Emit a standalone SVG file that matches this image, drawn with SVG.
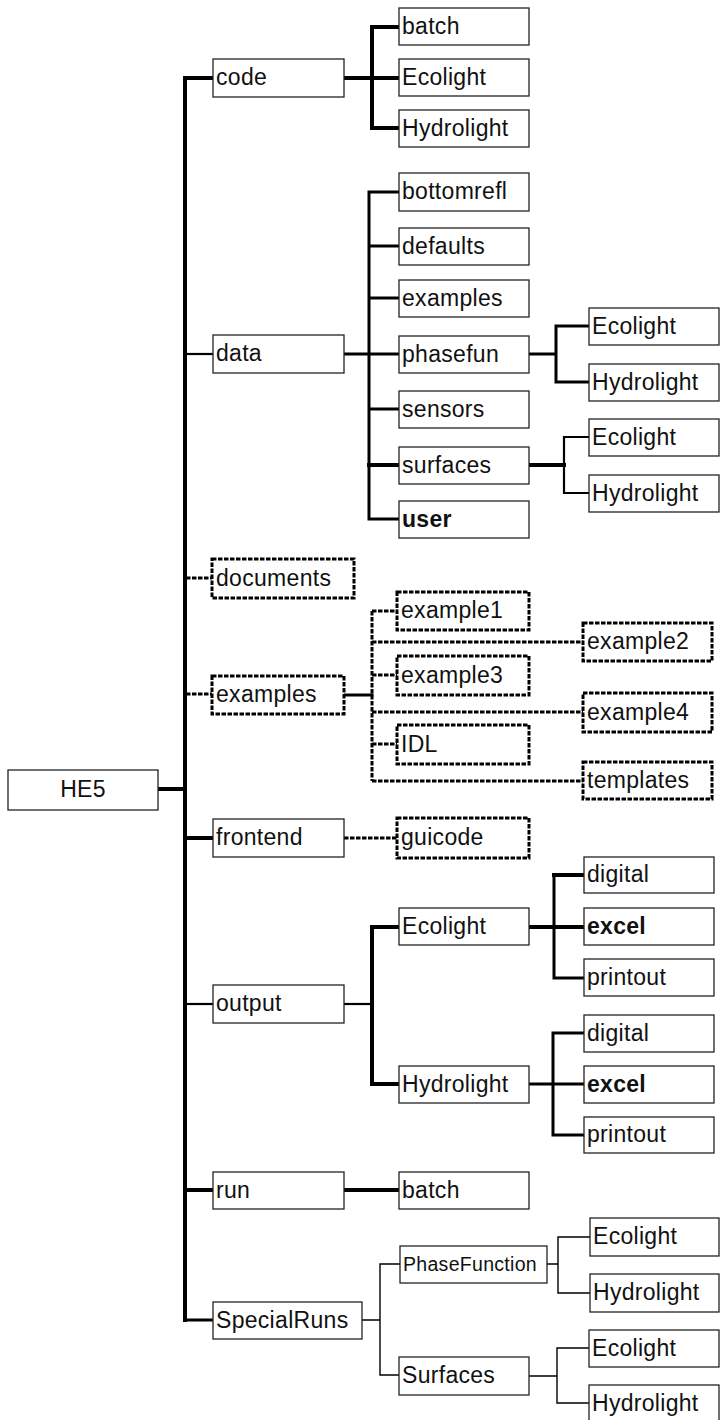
<svg xmlns="http://www.w3.org/2000/svg" width="720" height="1420" viewBox="0 0 720 1420">
<style>
  rect.b { fill: #fff; stroke: #222; stroke-width: 1.3; }
  rect.d { fill: #fff; stroke: #000; stroke-width: 3; stroke-dasharray: 4.5 1.5; }
  text { font-family: "Liberation Sans", Arial, sans-serif; font-size: 23px; letter-spacing: 0.3px; fill: #111; }
  text.bold { font-weight: bold; }
  text.small { font-size: 19.5px; }
  path { fill: none; stroke: #000; stroke-linecap: square; }
  .w4 { stroke-width: 4; }
  .w3 { stroke-width: 3; }
  .w2 { stroke-width: 2.2; }
  .w1 { stroke-width: 1.4; }
  .dash { stroke-width: 3; stroke-dasharray: 4.5 1.5; stroke-linecap: butt; }
</style>
<rect width="720" height="1420" fill="#fff"/>
<g id="connectors">
  <path class="w4" d="M185 78 V1320"/>
  <path class="w4" d="M158 789 H185"/>
  <path class="w4" d="M185 78 H213"/>
  <path class="w2" d="M185 354 H213"/>
  <path class="dash" d="M186 578 H212"/>
  <path class="dash" d="M186 694 H212"/>
  <path class="w4" d="M185 838 H213"/>
  <path class="w2" d="M185 1004 H213"/>
  <path class="w4" d="M185 1190 H213"/>
  <path class="w3" d="M185 1320 H213"/>
  <path class="w4" d="M344 78 H372 M372 27 V128 M372 27 H399 M372 78 H399 M372 128 H399"/>
  <path class="w3" d="M344 354 H369 M369 192 V519 M369 192 H399 M369 246 H399 M369 298 H399 M369 354 H399 M369 409 H399 M369 519 H399"/>
  <path class="w4" d="M369 465 H399 M529 465 H564"/>
  <path class="w3" d="M529 354 H556 M556 326 V382 M556 326 H589 M556 382 H589"/>
  <path class="w2" d="M564 437 V493 M564 437 H589 M564 493 H589"/>
  <path class="w3" d="M344 695 H372"/>
  <path class="dash" d="M372 611 V781 M372 611 H397 M372 642 H583 M372 675 H397 M372 712 H583 M372 744 H397 M372 781 H583"/>
  <path class="dash" d="M344 838 H397"/>
  <path class="w2" d="M344 1004 H372"/>
  <path class="w4" d="M372 927 V1084 M372 927 H399 M372 1084 H399"/>
  <path class="w4" d="M529 927 H554 M554 875 H584 M554 927 H584"/>
  <path class="w3" d="M554 875 V978 M554 978 H584"/>
  <path class="w3" d="M529 1084 H553 M553 1033 V1135 M553 1033 H584 M553 1084 H584 M553 1135 H584"/>
  <path class="w4" d="M344 1190 H399"/>
  <path class="w1" d="M362 1320 H380 M380 1264 V1375 M380 1264 H400 M380 1375 H399"/>
  <path class="w1" d="M547 1264 H558 M558 1237 V1293 M558 1237 H590 M558 1293 H590"/>
  <path class="w1" d="M529 1376 H557 M557 1348 V1403 M557 1348 H589 M557 1403 H589"/>
</g>
<g id="he5"><rect class="b" x="8" y="770" width="150" height="40"/><text x="83" y="797" text-anchor="middle">HE5</text></g>
<g id="code"><rect class="b" x="213" y="59" width="131" height="38"/><text x="216" y="85">code</text></g>
<g id="code-batch"><rect class="b" x="399" y="8" width="130" height="37"/><text x="402" y="33.5">batch</text></g>
<g id="code-ecolight"><rect class="b" x="399" y="59" width="130" height="37"/><text x="402" y="84.5">Ecolight</text></g>
<g id="code-hydrolight"><rect class="b" x="399" y="110" width="130" height="37"/><text x="402" y="135.5">Hydrolight</text></g>
<g id="data"><rect class="b" x="213" y="335" width="131" height="38"/><text x="216" y="361">data</text></g>
<g id="bottomrefl"><rect class="b" x="399" y="173" width="130" height="38"/><text x="402" y="199">bottomrefl</text></g>
<g id="defaults"><rect class="b" x="399" y="228" width="130" height="37"/><text x="402" y="253.5">defaults</text></g>
<g id="data-examples"><rect class="b" x="399" y="280" width="130" height="37"/><text x="402" y="305.5">examples</text></g>
<g id="phasefun"><rect class="b" x="399" y="336" width="130" height="37"/><text x="402" y="361.5">phasefun</text></g>
<g id="sensors"><rect class="b" x="399" y="391" width="130" height="37"/><text x="402" y="416.5">sensors</text></g>
<g id="surfaces"><rect class="b" x="399" y="447" width="130" height="37"/><text x="402" y="472.5">surfaces</text></g>
<g id="user"><rect class="b" x="399" y="501" width="130" height="37"/><text class="bold" x="402" y="526.5">user</text></g>
<g id="phasefun-ecolight"><rect class="b" x="589" y="308" width="130" height="37"/><text x="592" y="333.5">Ecolight</text></g>
<g id="phasefun-hydrolight"><rect class="b" x="589" y="364" width="130" height="37"/><text x="592" y="389.5">Hydrolight</text></g>
<g id="surfaces-ecolight"><rect class="b" x="589" y="419" width="130" height="37"/><text x="592" y="444.5">Ecolight</text></g>
<g id="surfaces-hydrolight"><rect class="b" x="589" y="475" width="130" height="37"/><text x="592" y="500.5">Hydrolight</text></g>
<g id="documents"><rect class="d" x="212" y="559" width="142" height="39"/><text x="216" y="585.5">documents</text></g>
<g id="examples"><rect class="d" x="212" y="676" width="132" height="38"/><text x="216" y="702">examples</text></g>
<g id="example1"><rect class="d" x="397" y="592" width="132" height="38"/><text x="401" y="618">example1</text></g>
<g id="example2"><rect class="d" x="583" y="623" width="129" height="38"/><text x="587" y="649">example2</text></g>
<g id="example3"><rect class="d" x="397" y="656" width="132" height="39"/><text x="401" y="682.5">example3</text></g>
<g id="example4"><rect class="d" x="583" y="693" width="129" height="39"/><text x="587" y="719.5">example4</text></g>
<g id="idl"><rect class="d" x="397" y="725" width="132" height="39"/><text x="401" y="751.5">IDL</text></g>
<g id="templates"><rect class="d" x="583" y="762" width="129" height="37"/><text x="587" y="787.5">templates</text></g>
<g id="frontend"><rect class="b" x="213" y="819" width="131" height="38"/><text x="216" y="845">frontend</text></g>
<g id="guicode"><rect class="d" x="397" y="818" width="132" height="40"/><text x="401" y="845">guicode</text></g>
<g id="output"><rect class="b" x="213" y="985" width="131" height="38"/><text x="216" y="1011">output</text></g>
<g id="output-ecolight"><rect class="b" x="399" y="908" width="130" height="37"/><text x="402" y="933.5">Ecolight</text></g>
<g id="ecolight-digital"><rect class="b" x="584" y="857" width="130" height="36"/><text x="587" y="882">digital</text></g>
<g id="ecolight-excel"><rect class="b" x="584" y="908" width="130" height="37"/><text class="bold" x="587" y="933.5">excel</text></g>
<g id="ecolight-printout"><rect class="b" x="584" y="959" width="130" height="37"/><text x="587" y="984.5">printout</text></g>
<g id="output-hydrolight"><rect class="b" x="399" y="1066" width="130" height="37"/><text x="402" y="1091.5">Hydrolight</text></g>
<g id="hydrolight-digital"><rect class="b" x="584" y="1015" width="130" height="37"/><text x="587" y="1040.5">digital</text></g>
<g id="hydrolight-excel"><rect class="b" x="584" y="1066" width="130" height="37"/><text class="bold" x="587" y="1091.5">excel</text></g>
<g id="hydrolight-printout"><rect class="b" x="584" y="1117" width="130" height="36"/><text x="587" y="1142">printout</text></g>
<g id="run"><rect class="b" x="213" y="1172" width="131" height="37"/><text x="216" y="1197.5">run</text></g>
<g id="run-batch"><rect class="b" x="399" y="1172" width="130" height="37"/><text x="402" y="1197.5">batch</text></g>
<g id="specialruns"><rect class="b" x="213" y="1302" width="149" height="37"/><text x="216" y="1327.5">SpecialRuns</text></g>
<g id="phasefunction"><rect class="b" x="400" y="1246" width="147" height="37"/><text class="small" x="403" y="1271">PhaseFunction</text></g>
<g id="phasefunction-ecolight"><rect class="b" x="590" y="1218" width="129" height="38"/><text x="593" y="1244">Ecolight</text></g>
<g id="phasefunction-hydrolight"><rect class="b" x="590" y="1274" width="129" height="38"/><text x="593" y="1300">Hydrolight</text></g>
<g id="sr-surfaces"><rect class="b" x="399" y="1357" width="130" height="38"/><text x="402" y="1383">Surfaces</text></g>
<g id="sr-surfaces-ecolight"><rect class="b" x="589" y="1330" width="130" height="37"/><text x="592" y="1355.5">Ecolight</text></g>
<g id="sr-surfaces-hydrolight"><rect class="b" x="589" y="1385" width="130" height="36"/><text x="592" y="1411">Hydrolight</text></g>
</svg>
